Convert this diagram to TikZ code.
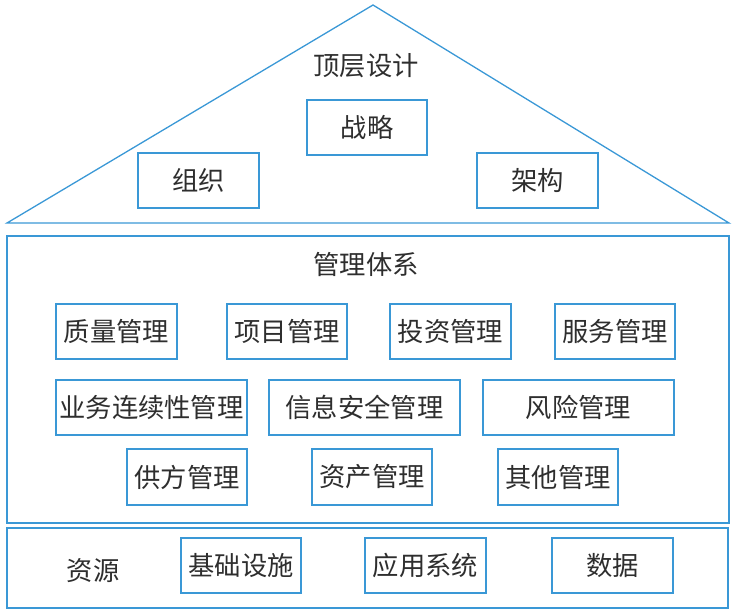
\documentclass[tikz,border=0pt]{standalone}
\usepackage{fontspec}
\setmainfont{Noto Sans CJK SC}
\definecolor{linec}{HTML}{3A98D6}
\definecolor{txtc}{HTML}{2E2E2E}
\tikzset{
  frame/.style={draw=linec, line width=1.3pt},
  boxn/.style={draw=linec, line width=1.3pt, minimum height=55pt, inner sep=0pt,
    font=\fontsize{26.3}{28}\selectfont, text=txtc},
  lbl/.style={inner sep=0pt, font=\fontsize{26.3}{28}\selectfont, text=txtc}
}
\begin{document}
\begin{tikzpicture}[x=1pt,y=-1pt]
\useasboundingbox (0,0) rectangle (732,614);
% outer frames
\draw[frame, line join=miter] (7,223) coordinate (tl) -- (373,5) coordinate (apex) -- (729,223) coordinate (tr) -- cycle;
\draw[frame] (7,236) rectangle (729,523);
\draw[frame] (7,528) rectangle (728,608);
% top
\node[lbl] (top) at (366,66) {顶层设计};
\node[boxn, minimum width=120pt] (zl) at (367,127.5) {战略};
\node[boxn, minimum width=121pt] (zz) at (198.5,180.5) {组织};
\node[boxn, minimum width=121pt] (jg) at (537.5,180.5) {架构};
% management
\node[lbl] (gl) at (366,264) {管理体系};
\node[boxn, minimum width=121pt] (m1) at (116.5,331.5) {质量管理};
\node[boxn, minimum width=120pt] (m2) at (287,331.5) {项目管理};
\node[boxn, minimum width=121pt] (m3) at (450.5,331.5) {投资管理};
\node[boxn, minimum width=120pt] (m4) at (615,331.5) {服务管理};
\node[boxn, minimum width=191pt] (m5) at (151.5,407.5) {业务连续性管理};
\node[boxn, minimum width=191pt] (m6) at (364.5,407.5) {信息安全管理};
\node[boxn, minimum width=191pt] (m7) at (578.5,407.5) {风险管理};
\node[boxn, minimum width=120pt, minimum height=56pt] (m8) at (187,477) {供方管理};
\node[boxn, minimum width=120pt, minimum height=56pt] (m9) at (372,477) {资产管理};
\node[boxn, minimum width=120pt, minimum height=56pt] (m10) at (558,477) {其他管理};
% resources
\node[lbl] (zy) at (93,571) {资源};
\node[boxn, minimum width=120pt] (r1) at (241,565.5) {基础设施};
\node[boxn, minimum width=121pt] (r2) at (425.5,565.5) {应用系统};
\node[boxn, minimum width=121pt] (r3) at (612.5,565.5) {数据};
\end{tikzpicture}
\end{document}
